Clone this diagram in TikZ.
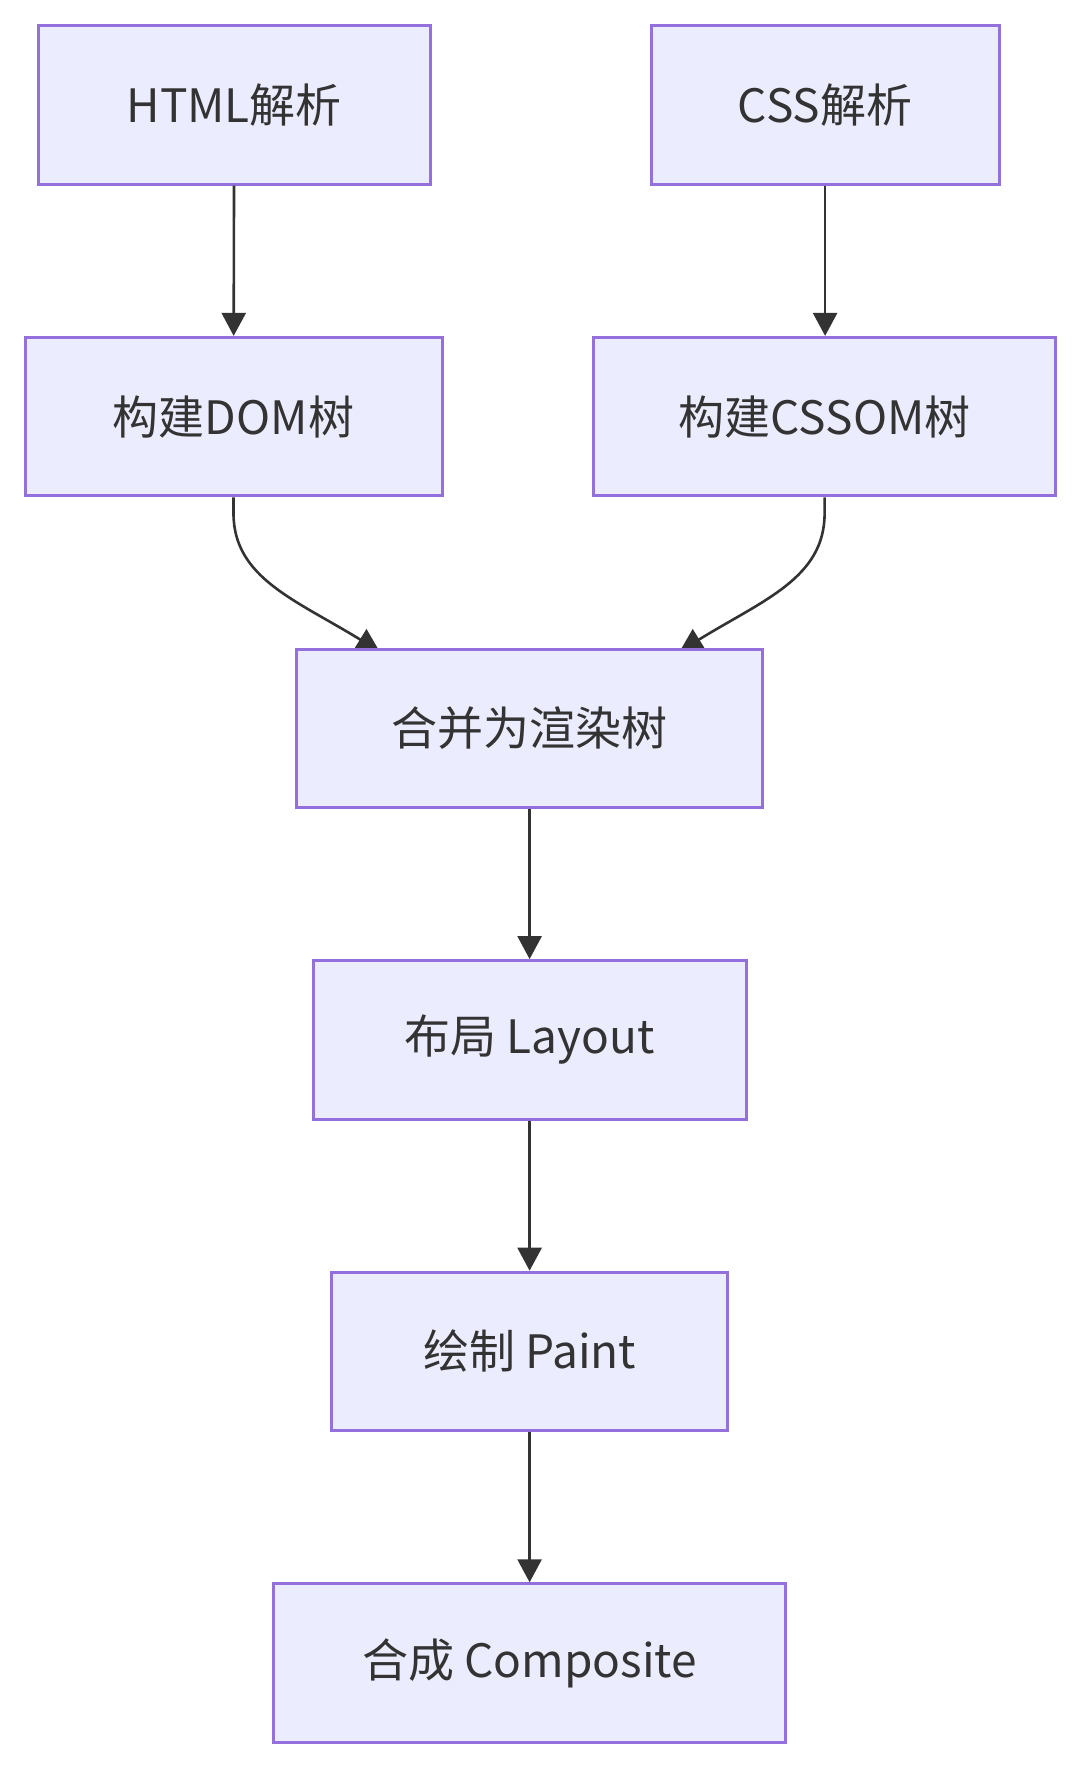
\documentclass[tikz,border=0pt]{standalone}
\usepackage{fontspec}
\setmainfont{Noto Sans CJK SC}
\usetikzlibrary{arrows.meta,backgrounds,calc}
\definecolor{boxfill}{HTML}{ECECFF}
\definecolor{boxline}{HTML}{9370DB}
\definecolor{ink}{HTML}{333333}
\tikzset{
  x=1pt,y=1pt,
  flowbox/.style={draw=boxline,fill=boxfill,line width=3pt,rectangle,inner sep=0pt,
    minimum height=158.4pt,text=ink,font=\fontsize{46}{55}\selectfont},
  arr/.style={draw=ink,line width=2.6pt,-{Triangle[length=23pt,width=24pt]}}
}
\begin{document}
\begin{tikzpicture}
\useasboundingbox (0,0) rectangle (1083,-1770);
\node[flowbox,minimum width=392.4pt] (html) at (234.2,-105) {HTML解析};
\node[flowbox,minimum width=348.2pt] (css) at (825.1,-105) {CSS解析};
\node[flowbox,minimum width=417pt] (dom) at (233.5,-416.6) {构建DOM树};
\node[flowbox,minimum width=462pt] (cssom) at (824.6,-416.6) {构建CSSOM树};
\node[flowbox,minimum width=465.6pt] (merge) at (529.6,-728.2) {合并为渲染树};
\node[flowbox,minimum width=432.8pt] (layout) at (529.6,-1039.8) {布局 Layout};
\node[flowbox,minimum width=396.7pt] (paint) at (529.6,-1351.4) {绘制 Paint};
\node[flowbox,minimum width=511.8pt] (comp) at (529.6,-1663) {合成 Composite};
\coordinate (e1) at ($(merge.north)+(-150,-4)$);
\coordinate (e2) at ($(merge.north)+(150,-4)$);
\begin{pgfonlayer}{background}
\draw[arr] (dom.south) -- ++(0,-16) .. controls (233.5,-578) and (296,-600) .. (e1);
\draw[arr] (cssom.south) -- ++(0,-16) .. controls (824.6,-578) and (763.2,-600) .. (e2);
\end{pgfonlayer}
\draw[arr] (html) -- (dom);
\draw[arr] (css) -- (css|-cssom.north);
\draw[arr] (merge) -- (layout);
\draw[arr] (layout) -- (paint);
\draw[arr] (paint) -- (comp);
\end{tikzpicture}
\end{document}
